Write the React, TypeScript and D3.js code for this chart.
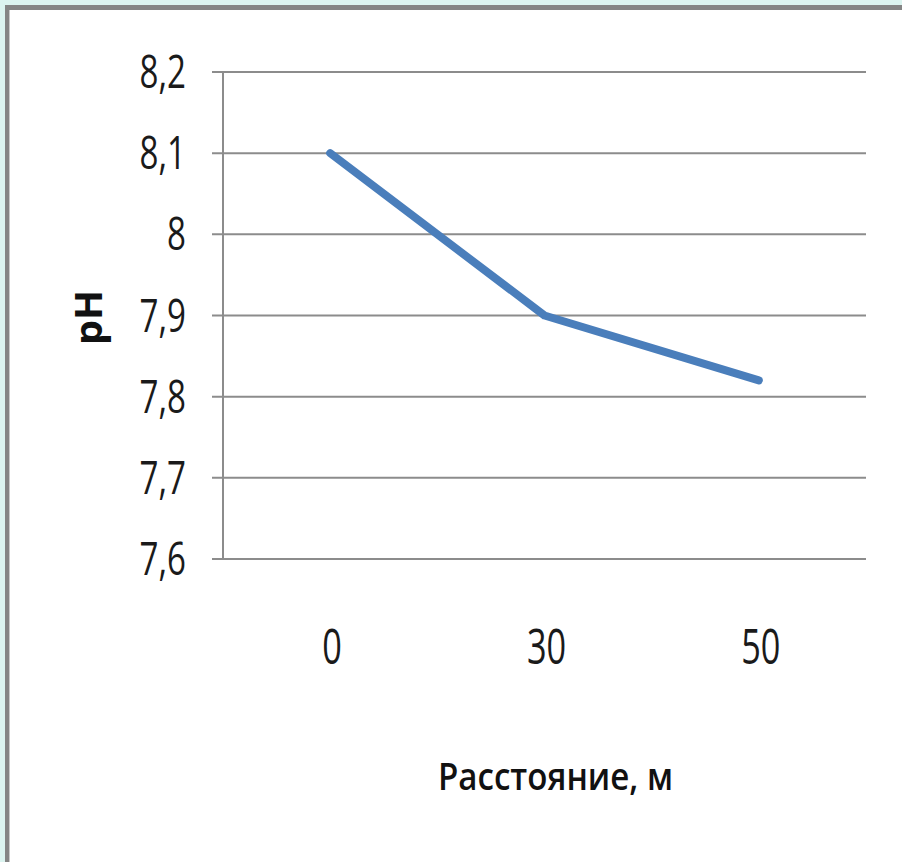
import * as d3 from "d3";

const categories = ["0", "30", "50"];
const phValues = [8.1, 7.9, 7.82];
const yTicks = [7.6, 7.7, 7.8, 7.9, 8.0, 8.1, 8.2];
const yTickLabels = ["7,6", "7,7", "7,8", "7,9", "8", "8,1", "8,2"];

const W = 902;
const H = 862;
const plot = { left: 223, right: 866, top: 72, bottom: 559 };

const App = () => {
  const x = d3
    .scaleBand<string>()
    .domain(categories)
    .range([plot.left, plot.right]);
  const y = d3.scaleLinear().domain([7.6, 8.2]).range([plot.bottom, plot.top]);

  const line = d3
    .line<number>()
    .x((_, i) => (x(categories[i]) as number) + x.bandwidth() / 2)
    .y((d) => y(d));

  const font = "'Open Sans', 'Liberation Sans', sans-serif";

  return (
    <svg
      width={W}
      height={H}
      style={{ position: "absolute", left: 0, top: 0, display: "block" }}
    >
      {/* frame */}
      <rect x={0} y={0} width={W} height={H} fill="#dcf4f0" />
      <rect x={5} y={5} width={W} height={H} fill="#858585" />
      <rect x={9} y={10} width={W} height={H} fill="#c8c8c8" />
      <rect x={10} y={10} width={W} height={H} fill="#ffffff" />

      {/* gridlines */}
      {yTicks.map((t) => (
        <line
          key={t}
          x1={212}
          x2={plot.right}
          y1={y(t)}
          y2={y(t)}
          stroke="#8c8c8c"
          strokeWidth={2}
        />
      ))}
      <line
        x1={plot.left}
        x2={plot.left}
        y1={y(8.2)}
        y2={y(7.6)}
        stroke="#8c8c8c"
        strokeWidth={2}
      />

      {/* y tick labels */}
      {yTicks.map((t, i) => (
        <text
          key={t}
          transform={`translate(186, ${y(t) + 16}) scale(0.72, 1)`}
          textAnchor="end"
          fontFamily={font}
          fontSize={46}
          fill="#1a1a1a"
        >
          {yTickLabels[i]}
        </text>
      ))}

      {/* x tick labels */}
      {categories.map((c) => (
        <text
          key={c}
          transform={`translate(${(x(c) as number) + x.bandwidth() / 2 + 2}, 664) scale(0.7, 1)`}
          textAnchor="middle"
          fontFamily={font}
          fontSize={49}
          fill="#1a1a1a"
        >
          {c}
        </text>
      ))}

      {/* series */}
      <path
        d={line(phValues) as string}
        fill="none"
        stroke="#4a7ebb"
        strokeWidth={8}
        strokeLinecap="round"
        strokeLinejoin="round"
      />

      {/* axis titles */}
      <text
        x={438}
        y={790}
        textLength={235}
        lengthAdjust="spacingAndGlyphs"
        fontFamily={font}
        fontSize={38}
        fontWeight={600}
        fill="#111"
      >
        Расстояние, м
      </text>
      <text
        transform="translate(102, 345) rotate(-90)"
        textLength={55}
        lengthAdjust="spacingAndGlyphs"
        fontFamily={font}
        fontSize={38}
        fontWeight="bold"
        fill="#111"
      >
        pH
      </text>
    </svg>
  );
};

export default App;
